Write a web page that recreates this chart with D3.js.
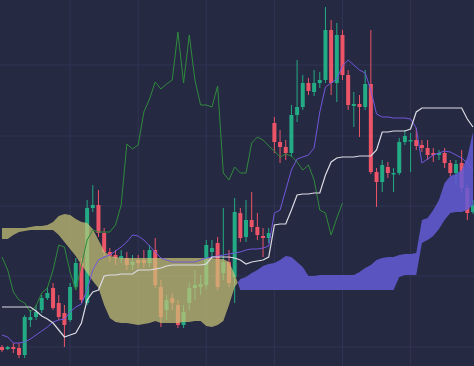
<!DOCTYPE html>
<html>
<head>
<meta charset="utf-8">
<script src="https://cdn.jsdelivr.net/npm/d3@7"></script>
<style>
  html, body { margin: 0; padding: 0; background: #262942; overflow: hidden; }
  svg { display: block; }
</style>
</head>
<body>
<script>
// candle data (one entry per bar)
const opens = [19,17,19,18,11,46,49,56,68,78, 63,53,46,79,103,63,158,161,133,114,
  111,107,108,101,106,106,103,116,79,56, 68,61,41,63,78,79,81,114,123,93,
  104,89,153,129,146,139,130,128,243,224, 219,213,251,259,283,274,283,286,336,283,
  331,291,260,262,259,282,194,184,199,192, 193,224,225,226,221,218,213,211,213,203,
  193,203,178,154];
const highs = [21,20,23,23,51,56,61,71,79,83, 71,61,83,108,108,166,181,176,138,118,
  116,116,114,111,111,116,121,128,86,71, 73,66,61,83,96,91,126,126,129,158,
  116,168,158,166,174,153,138,138,249,236, 226,261,306,291,288,296,294,359,346,343,
  336,296,274,271,296,336,198,206,204,198, 228,236,233,238,226,226,218,216,218,206,
  206,216,181,166];
const lows = [14,16,13,8,8,39,46,53,66,56, 46,19,44,76,63,61,154,129,110,104,
  101,103,96,96,98,98,99,78,39,46, 56,38,38,56,66,71,76,108,76,86,
  79,63,124,124,134,126,109,123,213,203, 206,209,244,256,271,270,278,283,271,264,
  286,256,239,229,256,192,159,174,188,174, 191,221,194,216,214,206,204,206,198,190,
  181,174,146,152];
const closes = [16,19,17,11,49,49,54,68,73,58, 49,41,79,103,66,158,161,133,114,110,
  108,110,101,104,103,103,116,81,49,66, 63,41,54,78,81,82,121,118,79,104,
  83,154,128,146,139,131,128,133,224,219, 213,251,259,283,275,283,286,336,283,331,
  291,261,262,259,282,194,184,201,193,193, 224,230,226,220,218,211,211,213,203,193,
  202,178,153,161];

// ichimoku lines
const tenkan = [31,29,23,23,24,27,31,35,39,44, 46,47,54,59,62,76,96,106,109,111,
  115,119,124,131,130,126,120,114,108,106, 104,104,104,104,104,106,108,109,110,111,
  112,113,114,116,117,117,118,120,153,156, 176,196,207,209,211,218,254,279,283,287,
  300,306,301,296,293,276,252,249,249,248, 248,248,247,238,203,207,211,213,215,214,
  211,208,203,196];
const kijun = [59,59,59,59,59,59,55,50,47,43, 36,29,31,33,43,66,74,76,90,91,
  91,92,92,92,96,96,96,97,98,100, 101,101,101,101,101,101,102,109,109,109,
  109,108,106,102,104,105,106,109,141,142, 142,156,171,172,172,173,173,191,204,208,
  209,209,209,210,210,210,216,234,234,235, 235,235,237,254,258,258,258,258,258,258,
  258,258,247,239];
const chikou = [109,96,74,66,63,54,60,73,78,96, 121,119,94,76,101,126,136,134,134,134,
  141,161,222,217,221,254,267,284,277,282, 286,334,283,331,286,261,261,259,280,193,
  186,199,193,193,223,229,226,220,215,209, 212,210,204,196,201,186,156,153,131,148,
  163];
const spanA = [138,138,138,138,138,139,140,140,141,144, 150,152,151,147,144,143,137,126,115,110,
  109,108,108,108,108,108,108,108,108,108, 108,108,108,108,108,108,108,108,107,107,
  104,92,76,76,76,76,76,76,76,76, 76,76,76,76,76,76,76,76,76,76,
  76,76,76,76,76,76,76,76,76,76, 89,91,91,91,123,126,130,137,146,153,
  154,154,156,161];
const spanB = [127,127,131,134,135,136,136,136,136,136, 131,124,117,110,101,93,85,78,61,48,
  44,43,43,42,41,42,43,45,43,43, 43,43,44,44,45,45,40,39,41,45,
  61,79,87,89,93,96,100,102,103,106, 110,109,104,99,90,90,91,91,91,91,
  91,91,91,94,98,101,106,108,109,109, 111,112,112,113,146,148,156,166,183,190,
  192,196,209,234];

// grid
const gridIndex = [12, 24, 36, 48, 60, 72];
const gridPrices = [19, 90, 160, 230, 301];

const width = 474;
const height = 366;

const x = d3.scaleLinear().domain([0, 83]).range([2, 473]);
const y = d3.scaleLinear().domain([0, 366]).range([366, 0]);

const svg = d3.select("body").append("svg")
    .attr("width", width)
    .attr("height", height);

svg.append("rect")
    .attr("width", width)
    .attr("height", height)
    .attr("fill", "#262942");

// grid lines
svg.selectAll(".vgrid")
    .data(gridIndex)
    .enter()
    .append("line")
    .attr("x1", d => x(d)).attr("x2", d => x(d))
    .attr("y1", 0).attr("y2", height)
    .attr("stroke", "#313454")
    .attr("stroke-width", 1);

svg.selectAll(".hgrid")
    .data(gridPrices)
    .enter()
    .append("line")
    .attr("x1", 0).attr("x2", width)
    .attr("y1", d => y(d)).attr("y2", d => y(d))
    .attr("stroke", "#313454")
    .attr("stroke-width", 1);

// candles
const bars = d3.range(opens.length).map(i => ({
    i: i, o: opens[i], h: highs[i], l: lows[i], c: closes[i]
}));
const up = "#22ab84";
const down = "#ec5467";

svg.selectAll(".wick")
    .data(bars)
    .enter()
    .append("line")
    .attr("x1", d => x(d.i)).attr("x2", d => x(d.i))
    .attr("y1", d => y(d.h)).attr("y2", d => y(d.l))
    .attr("stroke", d => d.c >= d.o ? up : down)
    .attr("stroke-width", 1);

svg.selectAll(".body")
    .data(bars)
    .enter()
    .append("rect")
    .attr("x", d => x(d.i) - 2)
    .attr("width", 4)
    .attr("y", d => y(Math.max(d.o, d.c)))
    .attr("height", d => Math.max(1.5, Math.abs(y(d.o) - y(d.c))))
    .attr("fill", d => d.c >= d.o ? up : down);

// cloud
const idx = d3.range(spanA.length);
const defs = svg.append("defs");

defs.append("clipPath").attr("id", "belowA")
    .append("path")
    .attr("d", d3.area().x(i => x(i)).y0(i => y(spanA[i])).y1(height)(idx));
defs.append("clipPath").attr("id", "belowB")
    .append("path")
    .attr("d", d3.area().x(i => x(i)).y0(i => y(spanB[i])).y1(height)(idx));

// olive where span A is above span B
svg.append("path")
    .attr("d", d3.area().x(i => x(i)).y0(0).y1(i => y(spanB[i]))(idx))
    .attr("clip-path", "url(#belowA)")
    .attr("fill", "#c9c476")
    .attr("fill-opacity", 0.72);

// blue where span B is above span A
svg.append("path")
    .attr("d", d3.area().x(i => x(i)).y0(0).y1(i => y(spanA[i]))(idx))
    .attr("clip-path", "url(#belowB)")
    .attr("fill", "#635cd6")
    .attr("fill-opacity", 0.85);

// lines
const line = arr => d3.line().x((d, i) => x(i)).y(d => y(d))(arr);

svg.append("path")
    .attr("d", line(chikou))
    .attr("fill", "none")
    .attr("stroke", "#2f8a3c")
    .attr("stroke-width", 1);

svg.append("path")
    .attr("d", line(tenkan))
    .attr("fill", "none")
    .attr("stroke", "#7257dc")
    .attr("stroke-width", 1);

svg.append("path")
    .attr("d", line(kijun))
    .attr("fill", "none")
    .attr("stroke", "#dcdce4")
    .attr("stroke-width", 1.2);
</script>
</body>
</html>
